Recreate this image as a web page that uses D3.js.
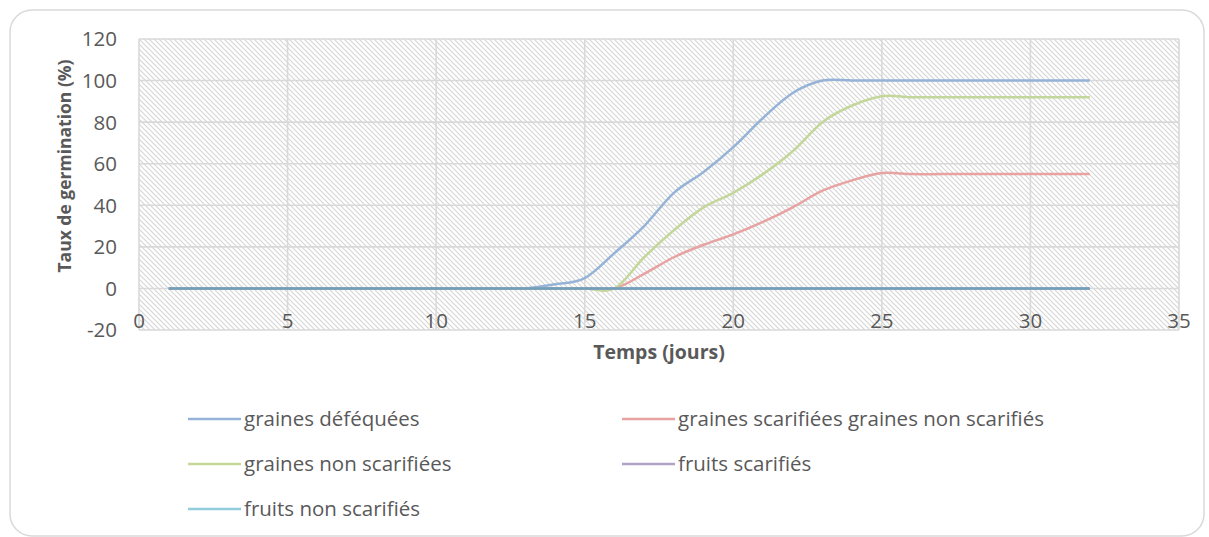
<!DOCTYPE html>
<html>
<head>
<meta charset="utf-8">
<script src="https://cdn.jsdelivr.net/npm/d3@7"></script>
<style>
  body { margin: 0; background: #fff; }
  text { font-family: "Open Sans", "Liberation Sans", sans-serif; fill: #595959; }
</style>
</head>
<body>
<svg id="chart" width="1209" height="537"></svg>
<script>
// days 1..32
const days = d3.range(1, 33)

const defequees = [0,0,0,0,0,0,0,0,0,0,0,0,0,2,5,17,30,46,56,68,82,94,100,100,100,100,100,100,100,100,100,100]
const scarifiees = [0,0,0,0,0,0,0,0,0,0,0,0,0,0,0,0,7,15,21,26,32,39,47,52,55.5,55,55,55,55,55,55,55]
const nonScarifiees = [0,0,0,0,0,0,0,0,0,0,0,0,0,0,0,0,15,28,39,46,55,66,80,88,92.5,92,92,92,92,92,92,92]
const fruitsScarifies = days.map(() => 0)
const fruitsNonScarifies = days.map(() => 0)

const seriesNames = [
  "graines déféquées",
  "graines scarifiées graines non scarifiés",
  "graines non scarifiées",
  "fruits scarifiés",
  "fruits non scarifiés"
]
const seriesValues = [defequees, scarifiees, nonScarifiees, fruitsScarifies, fruitsNonScarifies]
const keyColors = ["#95b3d7", "#e6a3a1", "#c4d79b", "#b3a2c7", "#93cddd"]
// the zero line looks darker where all series overlap
const lineColors = ["#95b3d7", "#e6a3a1", "#c4d79b", "#b3a2c7", "#6f9fb9"]

const xTicks = [0, 5, 10, 15, 20, 25, 30, 35]
const yTicks = [-20, 0, 20, 40, 60, 80, 100, 120]

const svg = d3.select("#chart")
const margin = { left: 139, right: 1179, top: 39, bottom: 330 }

const x = d3.scaleLinear().domain([0, 35]).range([margin.left, margin.right])
const y = d3.scaleLinear().domain([-20, 120]).range([margin.bottom, margin.top])

// outer frame
svg.append("rect")
  .attr("x", 10).attr("y", 10)
  .attr("width", 1194).attr("height", 526)
  .attr("rx", 22)
  .attr("fill", "#fff")
  .attr("stroke", "#d9d9d9")
  .attr("stroke-width", 1.5)

// hatch pattern for plot area
const pat = svg.append("defs").append("pattern")
  .attr("id", "hatch")
  .attr("patternUnits", "userSpaceOnUse")
  .attr("width", 5).attr("height", 5)
pat.append("path")
  .attr("d", "M-1,-1L6,6M-1,4L1,6M4,-1L6,1")
  .attr("stroke", "#d6d6d6")
  .attr("stroke-width", 1.2)

svg.append("rect")
  .attr("x", margin.left).attr("y", margin.top)
  .attr("width", margin.right - margin.left)
  .attr("height", margin.bottom - margin.top)
  .attr("fill", "url(#hatch)")

// gridlines
svg.append("g").selectAll("line")
  .data(yTicks)
  .join("line")
    .attr("x1", margin.left).attr("x2", margin.right)
    .attr("y1", d => y(d)).attr("y2", d => y(d))
    .attr("stroke", "#d9d9d9")
    .attr("stroke-width", 1.6)

svg.append("g").selectAll("line")
  .data(xTicks)
  .join("line")
    .attr("x1", d => x(d)).attr("x2", d => x(d))
    .attr("y1", margin.top).attr("y2", margin.bottom)
    .attr("stroke", "#d9d9d9")
    .attr("stroke-width", 1.6)

// tick labels
svg.append("g").selectAll("text")
  .data(yTicks)
  .join("text")
    .attr("x", 117)
    .attr("y", d => y(d))
    .attr("dy", "0.36em")
    .attr("text-anchor", "end")
    .style("font-size", "20.5px")
    .text(d => d)

svg.append("g").selectAll("text")
  .data(xTicks)
  .join("text")
    .attr("x", d => x(d))
    .attr("y", 328)
    .attr("text-anchor", "middle")
    .style("font-size", "20.5px")
    .text(d => d)

// axis titles
svg.append("text")
  .attr("transform", "translate(71,166) rotate(-90)")
  .attr("text-anchor", "middle")
  .style("font-size", "17.5px")
  .style("font-weight", "bold")
  .text("Taux de germination (%)")

svg.append("text")
  .attr("x", (margin.left + margin.right) / 2)
  .attr("y", 359)
  .attr("text-anchor", "middle")
  .style("font-size", "19.5px")
  .style("font-weight", "bold")
  .text("Temps (jours)")

// series
const line = d3.line()
  .x((d, i) => x(days[i]))
  .y(d => y(d))
  .curve(d3.curveCatmullRom.alpha(0))

svg.append("g").selectAll("path")
  .data(seriesValues)
  .join("path")
    .attr("d", line)
    .attr("fill", "none")
    .attr("stroke", (d, i) => lineColors[i])
    .attr("stroke-width", 2.5)
    .attr("stroke-linejoin", "round")

// legend
const legendPos = [[188, 419], [622, 419], [188, 464], [622, 464], [188, 509]]
const legend = svg.append("g").selectAll("g")
  .data(seriesNames)
  .join("g")
    .attr("transform", (d, i) => `translate(${legendPos[i][0]},${legendPos[i][1]})`)

legend.append("line")
  .attr("x1", 0).attr("x2", 53)
  .attr("stroke", (d, i) => keyColors[i])
  .attr("stroke-width", 2.5)

legend.append("text")
  .attr("x", 56)
  .attr("dy", "0.35em")
  .style("font-size", "20.5px")
  .text(d => d)
</script>
</body>
</html>
